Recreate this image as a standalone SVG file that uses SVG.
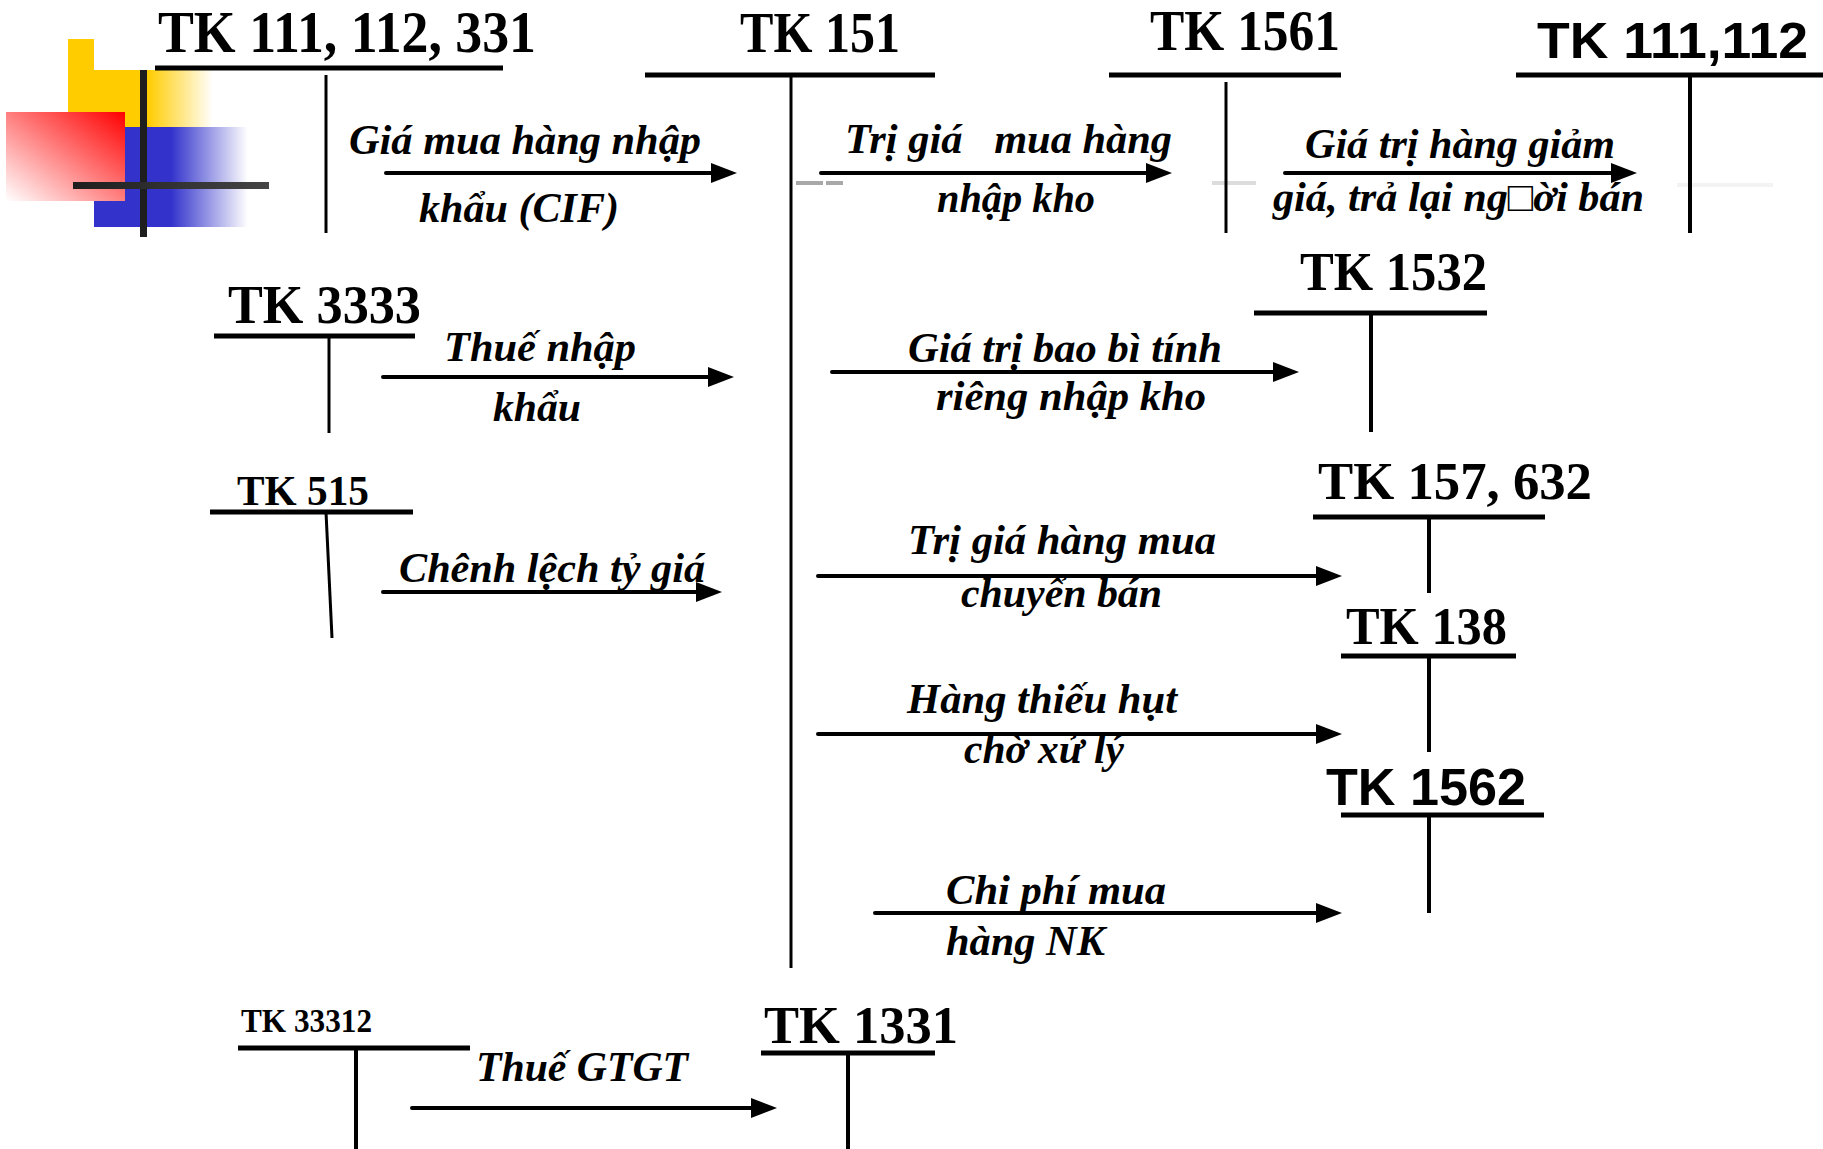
<svg xmlns="http://www.w3.org/2000/svg" width="1823" height="1149" viewBox="0 0 1823 1149">
<style>
.t{font-family:"Liberation Serif","Times New Roman",serif;font-weight:bold;fill:#000}
.s{font-family:"Liberation Sans",Arial,sans-serif;font-weight:bold;fill:#000}
.l{font-family:"Liberation Serif","Times New Roman","DejaVu Serif",serif;font-weight:bold;font-style:italic;font-size:42px;fill:#000;white-space:pre}
.h{stroke:#000;stroke-width:5;fill:none}
.v{stroke:#000;stroke-width:3;fill:none}
.v4{stroke:#000;stroke-width:4;fill:none}
.arr{stroke:#000;stroke-width:4;stroke-linecap:round;fill:none;marker-end:url(#ah)}
</style>
<defs>
<marker id="ah" markerUnits="userSpaceOnUse" viewBox="0 0 26 20" refX="2" refY="10" markerWidth="26" markerHeight="20" orient="auto">
<path d="M0,0 L26,10 L0,20 z" fill="#000"/>
</marker>
<linearGradient id="gy" x1="0" y1="0" x2="1" y2="0">
<stop offset="0" stop-color="#FFCC00"/>
<stop offset="0.55" stop-color="#FFCC00"/>
<stop offset="1" stop-color="#FFCC00" stop-opacity="0"/>
</linearGradient>
<linearGradient id="gb" x1="0" y1="0" x2="1" y2="0">
<stop offset="0" stop-color="#3333CC"/>
<stop offset="0.5" stop-color="#3333CC"/>
<stop offset="1" stop-color="#3333CC" stop-opacity="0"/>
</linearGradient>
<linearGradient id="gr" x1="1" y1="0" x2="0" y2="1">
<stop offset="0" stop-color="#FF0000"/>
<stop offset="1" stop-color="#FFFFFF"/>
</linearGradient>
<linearGradient id="gc" x1="0" y1="0" x2="1" y2="0">
<stop offset="0" stop-color="#1e1e1e"/>
<stop offset="1" stop-color="#454545"/>
</linearGradient>
</defs>
<rect width="1823" height="1149" fill="#fff"/>

<g id="decoration">
<rect x="68" y="39" width="26" height="32" fill="#FFCC00"/>
<rect x="68" y="70" width="145" height="57" fill="url(#gy)"/>
<rect x="94" y="127" width="154" height="100" fill="url(#gb)"/>
<rect x="6" y="112" width="119" height="89" fill="url(#gr)"/>
<rect x="140" y="70" width="7" height="167" fill="#1e1e1e"/>
<rect x="73" y="182" width="196" height="7" fill="url(#gc)"/>
<rect x="796" y="181" width="27" height="4" fill="#a8a8a8"/>
<rect x="826" y="181" width="17" height="4" fill="#a8a8a8"/>
<rect x="1212" y="181" width="44" height="4" fill="#dcdcdc"/>
<rect x="1677" y="183" width="96" height="4" fill="#f3f3f3"/>
</g>

<g id="tk111-112-331">
<text class="t" x="158" y="52" font-size="60" textLength="378" lengthAdjust="spacingAndGlyphs">TK 111, 112, 331</text>
<line class="h" x1="155" y1="68" x2="503" y2="68"/>
<line class="v" x1="326" y1="75" x2="326" y2="233"/>
</g>

<g id="tk151">
<text class="t" x="740" y="52" font-size="57" textLength="160" lengthAdjust="spacingAndGlyphs">TK 151</text>
<line class="h" x1="645" y1="75" x2="935" y2="75" stroke-width="6"/>
<line class="v" x1="791" y1="75" x2="791" y2="968"/>
</g>

<g id="tk1561">
<text class="t" x="1150" y="50" font-size="57" textLength="190" lengthAdjust="spacingAndGlyphs">TK 1561</text>
<line class="h" x1="1109" y1="75" x2="1341" y2="75"/>
<line class="v" x1="1226" y1="82" x2="1226" y2="233"/>
</g>

<g id="tk111-112">
<text class="s" x="1537" y="58" font-size="50" textLength="271" lengthAdjust="spacingAndGlyphs">TK 111,112</text>
<line class="h" x1="1516" y1="75" x2="1823" y2="75"/>
<line class="v4" x1="1690" y1="75" x2="1690" y2="233"/>
</g>

<g id="tk3333">
<text class="t" x="228" y="323" font-size="54" textLength="193" lengthAdjust="spacingAndGlyphs">TK 3333</text>
<line class="h" x1="214" y1="336" x2="415" y2="336"/>
<line class="v" x1="329" y1="336" x2="329" y2="433"/>
</g>

<g id="tk515">
<text class="t" x="237" y="505" font-size="43" textLength="132" lengthAdjust="spacingAndGlyphs">TK 515</text>
<line class="h" x1="210" y1="512" x2="413" y2="512"/>
<line class="v" x1="326" y1="512" x2="332" y2="638"/>
</g>

<g id="tk1532">
<text class="t" x="1300" y="290" font-size="54" textLength="187" lengthAdjust="spacingAndGlyphs">TK 1532</text>
<line class="h" x1="1254" y1="313" x2="1487" y2="313"/>
<line class="v4" x1="1371" y1="313" x2="1371" y2="432"/>
</g>

<g id="tk157-632">
<text class="t" x="1318" y="499" font-size="52" textLength="274" lengthAdjust="spacingAndGlyphs">TK 157, 632</text>
<line class="h" x1="1313" y1="517" x2="1545" y2="517"/>
<line class="v4" x1="1429" y1="517" x2="1429" y2="593"/>
</g>

<g id="tk138">
<text class="t" x="1346" y="644" font-size="52" textLength="161" lengthAdjust="spacingAndGlyphs">TK 138</text>
<line class="h" x1="1341" y1="656" x2="1516" y2="656"/>
<line class="v4" x1="1429" y1="656" x2="1429" y2="752"/>
</g>

<g id="tk1562">
<text class="s" x="1326" y="805" font-size="51" textLength="200" lengthAdjust="spacingAndGlyphs">TK 1562</text>
<line class="h" x1="1341" y1="815" x2="1544" y2="815"/>
<line class="v4" x1="1429" y1="815" x2="1429" y2="913"/>
</g>

<g id="tk33312">
<text class="t" x="241" y="1032" font-size="33" textLength="131" lengthAdjust="spacingAndGlyphs">TK 33312</text>
<line class="h" x1="238" y1="1048" x2="470" y2="1048"/>
<line class="v4" x1="356" y1="1048" x2="356" y2="1149"/>
</g>

<g id="tk1331">
<text class="t" x="764" y="1043" font-size="52" textLength="194" lengthAdjust="spacingAndGlyphs">TK 1331</text>
<line class="h" x1="761" y1="1053" x2="935" y2="1053"/>
<line class="v4" x1="848" y1="1053" x2="848" y2="1149"/>
</g>

<g id="connectors">
<line class="arr" x1="386" y1="173" x2="713" y2="173"/>
<text class="l" x="349" y="154" textLength="352" lengthAdjust="spacingAndGlyphs">Giá mua hàng nhập</text>
<text class="l" x="419" y="222" textLength="200" lengthAdjust="spacingAndGlyphs">khẩu (CIF)</text>

<line class="arr" x1="821" y1="173" x2="1148" y2="173"/>
<text class="l" x="845" y="153" textLength="327" lengthAdjust="spacingAndGlyphs">Trị giá   mua hàng</text>
<text class="l" x="937" y="212" textLength="158" lengthAdjust="spacingAndGlyphs">nhập kho</text>

<line class="arr" x1="1285" y1="173" x2="1613" y2="173"/>
<text class="l" x="1305" y="158" textLength="310" lengthAdjust="spacingAndGlyphs">Giá trị hàng giảm</text>
<text class="l" x="1273" y="211" textLength="371" lengthAdjust="spacingAndGlyphs">giá, trả lại ng□ời bán</text>

<line class="arr" x1="383" y1="377" x2="710" y2="377"/>
<text class="l" x="444" y="361" textLength="192" lengthAdjust="spacingAndGlyphs">Thuế nhập</text>
<text class="l" x="493" y="421" textLength="88" lengthAdjust="spacingAndGlyphs">khẩu</text>

<line class="arr" x1="383" y1="592" x2="698" y2="592"/>
<text class="l" x="399" y="582" textLength="306" lengthAdjust="spacingAndGlyphs">Chênh lệch tỷ giá</text>

<line class="arr" x1="832" y1="372" x2="1275" y2="372"/>
<text class="l" x="908" y="362" textLength="314" lengthAdjust="spacingAndGlyphs">Giá trị bao bì tính</text>
<text class="l" x="936" y="410" textLength="270" lengthAdjust="spacingAndGlyphs">riêng nhập kho</text>

<line class="arr" x1="818" y1="576" x2="1318" y2="576"/>
<text class="l" x="908" y="554" textLength="308" lengthAdjust="spacingAndGlyphs">Trị giá hàng mua</text>
<text class="l" x="961" y="607" textLength="201" lengthAdjust="spacingAndGlyphs">chuyển bán</text>

<line class="arr" x1="818" y1="734" x2="1318" y2="734"/>
<text class="l" x="907" y="713" textLength="270" lengthAdjust="spacingAndGlyphs">Hàng thiếu hụt</text>
<text class="l" x="964" y="763" textLength="160" lengthAdjust="spacingAndGlyphs">chờ xử lý</text>

<line class="arr" x1="875" y1="913" x2="1318" y2="913"/>
<text class="l" x="946" y="904" textLength="220" lengthAdjust="spacingAndGlyphs">Chi phí mua</text>
<text class="l" x="946" y="955" textLength="159" lengthAdjust="spacingAndGlyphs">hàng NK</text>

<line class="arr" x1="412" y1="1108" x2="753" y2="1108"/>
<text class="l" x="476" y="1081" textLength="212" lengthAdjust="spacingAndGlyphs">Thuế GTGT</text>
</g>
</svg>
